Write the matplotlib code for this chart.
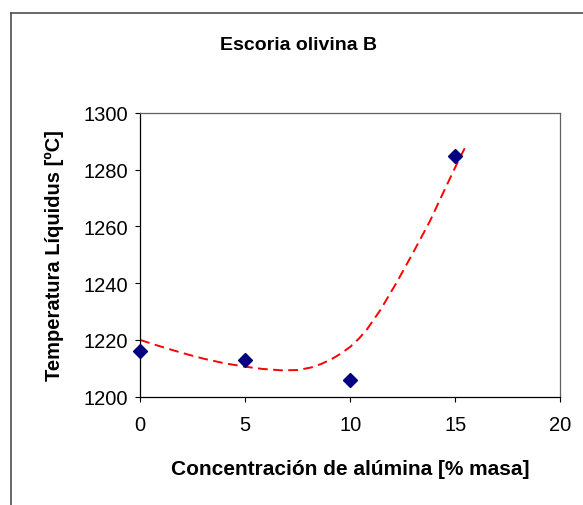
import matplotlib
matplotlib.use("Agg")
import matplotlib.pyplot as plt
from matplotlib.lines import Line2D

# ---- Data ----
alumina = [0, 5, 10, 15]
t_liquidus = [1216, 1213, 1206, 1285]

# polynomial trend line, read along its length
trend_x = [0, 0.75, 1.5, 2.3, 3.07, 4.0, 4.97, 5.8, 6.71, 7.5, 8.14, 8.6,
           9.1, 9.55, 10.0, 10.4, 10.78, 11.41, 12.21, 13.0, 13.8, 14.43,
           15.07, 15.51]
trend_y = [1220.0, 1218.2, 1216.5, 1214.8, 1213.3, 1211.8, 1210.6, 1209.8,
           1209.3, 1209.4, 1210.3, 1211.5, 1213.2, 1215.2, 1217.6, 1220.4,
           1223.6, 1230.3, 1240.3, 1250.9, 1262.0, 1272.0, 1282.0, 1288.5]

x_ticks = [0, 5, 10, 15, 20]
y_ticks = [1200, 1220, 1240, 1260, 1280, 1300]

plt.rcParams['font.family'] = ['Liberation Sans', 'DejaVu Sans']

W, H = 583, 506
fig = plt.figure(figsize=(W / 100, H / 100), dpi=100)
ax = fig.add_axes([140.3 / W, 1 - 397.7 / H, 420.0 / W, 283.7 / H])

ax.plot(trend_x, trend_y, color='#ff0000', lw=1.4, linestyle=(0, (5, 2.8)),
        zorder=2)
ax.plot(alumina, t_liquidus, linestyle='none', marker='D', markersize=7.6,
        color='#000080', zorder=3, clip_on=False)

ax.set_xlim(0, 20)
ax.set_ylim(1200, 1300)
ax.set_xticks(x_ticks)
ax.set_yticks(y_ticks)
ax.tick_params(direction='out', length=3.6, width=0.8, labelsize=14.5,
               colors='black')
ax.tick_params(axis='x', pad=9.5)
ax.tick_params(axis='y', pad=5.5)

for side in ['left', 'bottom']:
    ax.spines[side].set_color('black')
    ax.spines[side].set_linewidth(0.9)
for side in ['top', 'right']:
    ax.spines[side].set_color('#606060')
    ax.spines[side].set_linewidth(0.9)

ax.set_xlabel("Concentración de alúmina [% masa]", fontsize=15,
              fontweight='bold', va='center')
ax.xaxis.set_label_coords(0.5, (397.7 - 470) / 283.7)
ax.set_ylabel("Temperatura Líquidus [ºC]", fontsize=14.5,
              fontweight='bold', va='center')
ax.yaxis.set_label_coords((54 - 140.3) / 420.0, 0.5)
fig.text(298 / W, 1 - 45 / H, "Escoria olivina B", fontsize=14,
         fontweight='bold', ha='center', va='center')

# chart frame (only its top and left edges fall inside the image)
frame_kw = dict(color='#404040', lw=1.1, transform=fig.transFigure)
fig.add_artist(Line2D([11 / W, 1.0], [1 - 14 / H, 1 - 14 / H], **frame_kw))
fig.add_artist(Line2D([11 / W, 11 / W], [1 - 14 / H, 0.0], **frame_kw))

fig.savefig("out.png", dpi=100)
plt.close(fig)
